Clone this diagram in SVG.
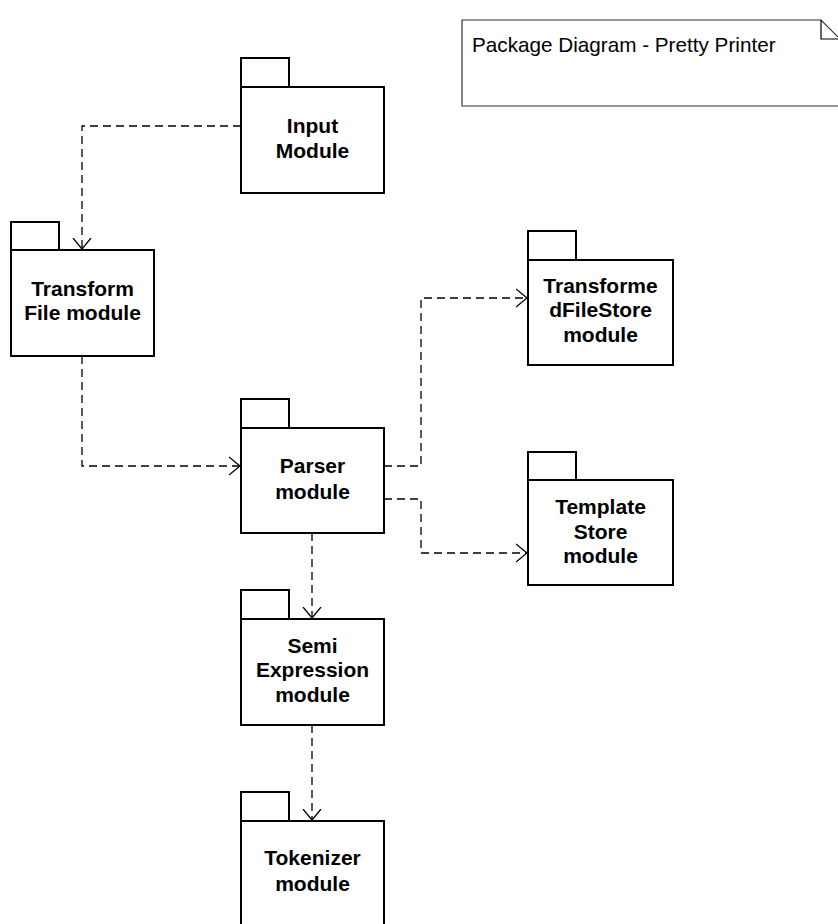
<svg xmlns="http://www.w3.org/2000/svg" width="838" height="924" viewBox="0 0 838 924">
<defs>
<style>
.pk{fill:#fff;stroke:#000;stroke-width:2}
.lbl{font-family:"Liberation Sans",Arial,sans-serif;font-weight:bold;font-size:21px;text-anchor:middle;fill:#000}
.dep{fill:none;stroke:#000;stroke-width:1.3;stroke-dasharray:8 5}
.note{fill:#fff;stroke:#333;stroke-width:1.2}
</style>
<marker id="open" viewBox="0 0 12 20" refX="11" refY="10" markerWidth="12" markerHeight="20" markerUnits="userSpaceOnUse" orient="auto">
<path d="M0,1 L11,10 L0,19" fill="none" stroke="#000" stroke-width="1.3"/>
</marker>
</defs>
<rect width="838" height="924" fill="#fff"/>

<g id="note">
<path class="note" d="M462,20 H821 L840,39 V106 H462 Z"/>
<path d="M821,20 V39 H840" fill="none" stroke="#000" stroke-width="1.2"/>
<text x="472" y="52" font-family="'Liberation Sans',Arial,sans-serif" font-size="20.7px" fill="#000">Package Diagram - Pretty Printer</text>
</g>

<g id="connectors">
<path class="dep" d="M241,126 H82 V249" marker-end="url(#open)"/>
<path class="dep" d="M82,356 V466 H240" marker-end="url(#open)"/>
<path class="dep" d="M384,466 H421 V298 H527" marker-end="url(#open)"/>
<path class="dep" d="M384,499 H421 V553 H527" marker-end="url(#open)"/>
<path class="dep" d="M312,533 V618" marker-end="url(#open)"/>
<path class="dep" d="M312,725 V820" marker-end="url(#open)"/>
</g>

<g id="input">
<rect class="pk" x="241" y="58" width="48" height="29"/>
<rect class="pk" x="241" y="87" width="143" height="106"/>
<text class="lbl" x="312.5" y="133">Input</text>
<text class="lbl" x="312.5" y="158">Module</text>
</g>

<g id="transform">
<rect class="pk" x="11" y="222" width="48" height="28"/>
<rect class="pk" x="11" y="250" width="143" height="106"/>
<text class="lbl" x="82.5" y="296">Transform</text>
<text class="lbl" x="82.5" y="320">File module</text>
</g>

<g id="parser">
<rect class="pk" x="241" y="399" width="48" height="29"/>
<rect class="pk" x="241" y="428" width="143" height="105"/>
<text class="lbl" x="312.5" y="473">Parser</text>
<text class="lbl" x="312.5" y="499">module</text>
</g>

<g id="tfstore">
<rect class="pk" x="528" y="231" width="48" height="29"/>
<rect class="pk" x="528" y="260" width="145" height="105"/>
<text class="lbl" x="600.5" y="293">Transforme</text>
<text class="lbl" x="600.5" y="317">dFileStore</text>
<text class="lbl" x="600.5" y="342">module</text>
</g>

<g id="template">
<rect class="pk" x="528" y="452" width="48" height="28"/>
<rect class="pk" x="528" y="480" width="145" height="105"/>
<text class="lbl" x="600.5" y="514">Template</text>
<text class="lbl" x="600.5" y="539">Store</text>
<text class="lbl" x="600.5" y="563">module</text>
</g>

<g id="semi">
<rect class="pk" x="241" y="590" width="48" height="29"/>
<rect class="pk" x="241" y="619" width="143" height="106"/>
<text class="lbl" x="312.5" y="653">Semi</text>
<text class="lbl" x="312.5" y="677">Expression</text>
<text class="lbl" x="312.5" y="702">module</text>
</g>

<g id="tokenizer">
<rect class="pk" x="241" y="792" width="48" height="29"/>
<rect class="pk" x="241" y="821" width="143" height="110"/>
<text class="lbl" x="312.5" y="865">Tokenizer</text>
<text class="lbl" x="312.5" y="891">module</text>
</g>
</svg>
